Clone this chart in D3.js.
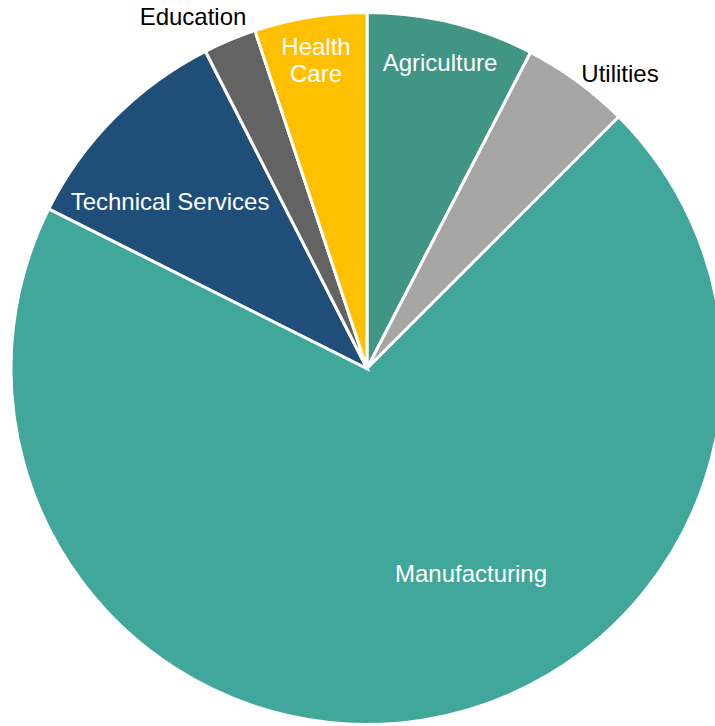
<!DOCTYPE html>
<html>
<head>
<meta charset="utf-8">
<script src="https://cdn.jsdelivr.net/npm/d3@7"></script>
<style>
  html, body { margin: 0; padding: 0; background: #ffffff; }
  svg { display: block; }
</style>
</head>
<body>
<svg id="chart" width="715" height="726"></svg>
<script>
// Share of total by sector, clockwise from 12 o'clock
const categories = ["Agriculture", "Utilities", "Manufacturing", "Technical Services", "Education", "Health Care"];
const values = [7.6, 4.9, 69.9, 10.1, 2.4, 5.1];
const colors = ["#409585", "#A5A5A5", "#40A79A", "#1F4E79", "#636363", "#FFC000"];

// Label text, colour and placement (offset of the first baseline centre from the pie centre)
const labelLines = [["Agriculture"], ["Utilities"], ["Manufacturing"], ["Technical Services"], ["Education"], ["Health", "Care"]];
const labelColors = ["#ffffff", "#000000", "#ffffff", "#ffffff", "#000000", "#ffffff"];
const labelOffsets = [[73, -298], [253, -287], [104, 213], [-197, -159], [-174, -344], [-51, -313.5]];

const svg = d3.select("#chart");
const cx = 367, cy = 368.5, radius = 356;

const data = categories.map((c, i) => ({ name: c, value: values[i], color: colors[i], i }));

const pie = d3.pie().value(d => d.value).sort(null).startAngle(0).endAngle(2 * Math.PI);
const arc = d3.arc().innerRadius(0).outerRadius(radius);

const g = svg.append("g").attr("transform", `translate(${cx},${cy})`);

g.selectAll("path.slice")
  .data(pie(data))
  .join("path")
  .attr("class", "slice")
  .attr("d", arc)
  .attr("fill", d => d.data.color)
  .attr("stroke", "#ffffff")
  .attr("stroke-width", 3)
  .attr("stroke-linejoin", "miter");

const labels = g.selectAll("text.label")
  .data(data)
  .join("text")
  .attr("class", "label")
  .attr("x", d => labelOffsets[d.i][0])
  .attr("y", d => labelOffsets[d.i][1])
  .attr("text-anchor", "middle")
  .attr("fill", d => labelColors[d.i])
  .style("font-family", "'Liberation Sans', Arial, sans-serif")
  .style("font-size", "24px");

labels.selectAll("tspan")
  .data(d => labelLines[d.i].map((t, k) => ({ t, k, x: labelOffsets[d.i][0] })))
  .join("tspan")
  .attr("x", d => d.x)
  .attr("dy", d => d.k === 0 ? 0 : 27)
  .text(d => d.t);
</script>
</body>
</html>
